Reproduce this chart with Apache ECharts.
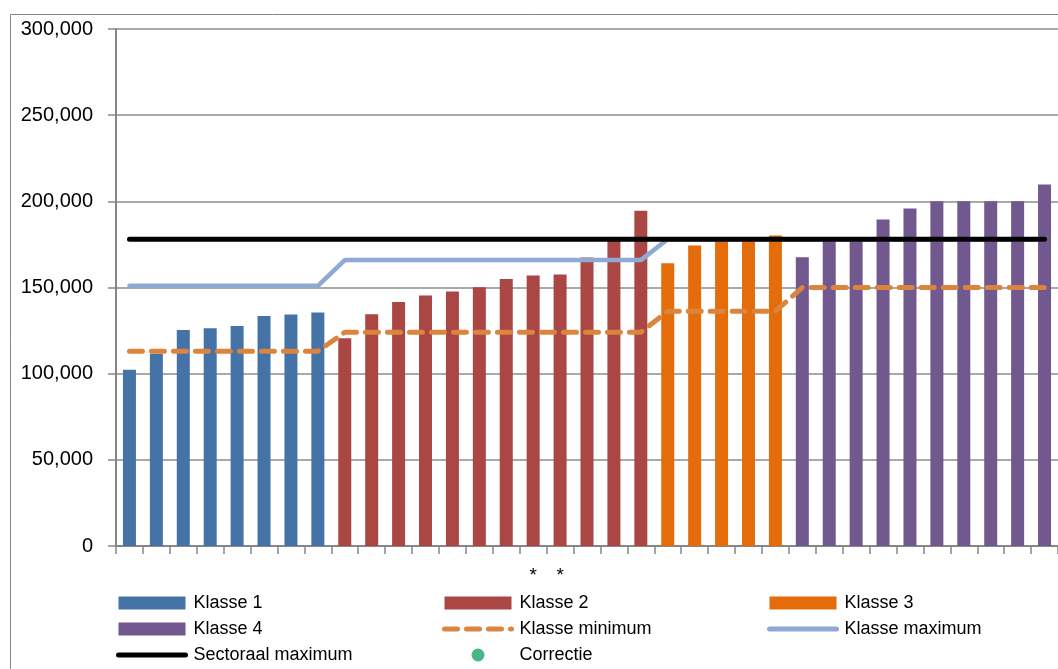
<!DOCTYPE html>
<html lang="nl">
<head>
    <meta charset="UTF-8">
    <title>Klasse chart</title>
    <style>
        body { margin: 0; background: #fff; }
        #container { width: 1058px; height: 669px; }
    </style>
    <script src="https://cdn.jsdelivr.net/npm/echarts@6/dist/echarts.min.js"></script>
</head>
<body>
    <div id="container"></div>
    <script>
        var klasse1 = [102300, 111600, 125300, 126300, 127700, 133500, 134300, 135500];
        var klasse2 = [120500, 134500, 141600, 145300, 147700, 150200, 155000, 157000, 157600, 167400, 178000, 194500];
        var klasse3 = [164000, 174400, 178000, 178000, 180200];
        var klasse4 = [167600, 178000, 178000, 189500, 195900, 200000, 200000, 200000, 200000, 209700];

        var klasseMinimum = [
            113000, 113000, 113000, 113000, 113000, 113000, 113000, 113000,
            124000, 124000, 124000, 124000, 124000, 124000, 124000, 124000, 124000, 124000, 124000, 124000,
            136200, 136200, 136200, 136200, 136200,
            150000, 150000, 150000, 150000, 150000, 150000, 150000, 150000, 150000, 150000
        ];
        var klasseMaximum = [
            151000, 151000, 151000, 151000, 151000, 151000, 151000, 151000,
            165900, 165900, 165900, 165900, 165900, 165900, 165900, 165900, 165900, 165900, 165900, 165900,
            178000, 178000, 178000, 178000, 178000,
            178000, 178000, 178000, 178000, 178000, 178000, 178000, 178000, 178000, 178000
        ];
        var sectoraalMaximum = [
            178000, 178000, 178000, 178000, 178000, 178000, 178000, 178000,
            178000, 178000, 178000, 178000, 178000, 178000, 178000, 178000, 178000, 178000, 178000, 178000,
            178000, 178000, 178000, 178000, 178000,
            178000, 178000, 178000, 178000, 178000, 178000, 178000, 178000, 178000, 178000
        ];
        var correctie = [];
        var yTicks = ['0', '50,000', '100,000', '150,000', '200,000', '250,000', '300,000'];

        // categorie-labels: alleen twee sterretjes
        var categories = [];
        var total = klasse1.length + klasse2.length + klasse3.length + klasse4.length;
        for (var i = 0; i < total; i++) categories.push('');
        categories[15] = '*';
        categories[16] = '*';

        // elke klasse op eigen positie, rest leeg
        function pad(values, offset) {
            var out = [];
            for (var i = 0; i < total; i++) {
                var j = i - offset;
                out.push(j >= 0 && j < values.length ? values[j] : null);
            }
            return out;
        }
        var off2 = klasse1.length;
        var off3 = off2 + klasse2.length;
        var off4 = off3 + klasse3.length;

        var font = 'Liberation Sans';
        var chart = echarts.init(document.getElementById('container'));

        var legendBase = {
            orient: 'vertical',
            top: 594,
            height: 120,
            padding: 0,
            itemWidth: 67,
            itemHeight: 13,
            itemGap: 8,
            textStyle: { fontFamily: font, fontSize: 18, color: '#000', padding: [0, 0, 0, 3] }
        };
        // lijn-iconen zonder symbool
        function lineItem(name, ls) {
            return { name: name, itemStyle: { opacity: 0 }, lineStyle: ls };
        }

        var option = {
            animation: false,
            backgroundColor: '#fff',
            graphic: [{
                type: 'rect',
                shape: { x: 10.5, y: 14.5, width: 1100, height: 700 },
                style: { fill: 'none', stroke: '#868686', lineWidth: 1 },
                silent: true
            }],
            legend: [
                Object.assign({}, legendBase, {
                    left: 116,
                    data: [
                        { name: 'Klasse 1', icon: 'rect' },
                        { name: 'Klasse 4', icon: 'rect' },
                        lineItem('Sectoraal maximum', { color: '#000', width: 5, cap: 'round' })
                    ]
                }),
                Object.assign({}, legendBase, {
                    left: 442,
                    data: [
                        { name: 'Klasse 2', icon: 'rect' },
                        lineItem('Klasse minimum', { color: '#DB843D', width: 5, type: [13, 9], cap: 'round' }),
                        { name: 'Correctie', icon: 'circle' }
                    ]
                }),
                Object.assign({}, legendBase, {
                    left: 767,
                    data: [
                        { name: 'Klasse 3', icon: 'rect' },
                        lineItem('Klasse maximum', { color: '#8EA9D2', width: 5, cap: 'round' })
                    ]
                })
            ],
            grid: { left: 116, top: 29, width: 945, bottom: 123, containLabel: false },
            xAxis: {
                type: 'category',
                data: categories,
                boundaryGap: true,
                axisLine: { lineStyle: { color: '#868686', width: 2 } },
                axisTick: { show: true, interval: 0, length: 8, lineStyle: { color: '#868686', width: 1.5 } },
                axisLabel: { interval: 0, margin: 20, fontFamily: font, fontSize: 19, color: '#000' }
            },
            yAxis: {
                type: 'value',
                min: 0,
                max: 300000,
                interval: 50000,
                axisLine: { show: true, lineStyle: { color: '#868686', width: 2 } },
                axisTick: { show: true, length: 8, lineStyle: { color: '#868686', width: 1.5 } },
                splitLine: { show: true, lineStyle: { color: '#8c8c8c', width: 1.5 } },
                axisLabel: {
                    margin: 23,
                    fontFamily: font,
                    fontSize: 20,
                    color: '#000',
                    formatter: function (v) { return yTicks[Math.round(v / 50000)]; }
                }
            },
            series: [
                { name: 'Klasse 1', type: 'bar', data: pad(klasse1, 0), barWidth: 13, barGap: '-100%', itemStyle: { color: '#4572A7' } },
                { name: 'Klasse 2', type: 'bar', data: pad(klasse2, off2), barWidth: 13, barGap: '-100%', itemStyle: { color: '#AA4643' } },
                { name: 'Klasse 3', type: 'bar', data: pad(klasse3, off3), barWidth: 13, barGap: '-100%', itemStyle: { color: '#E46C0A' } },
                { name: 'Klasse 4', type: 'bar', data: pad(klasse4, off4), barWidth: 13, barGap: '-100%', itemStyle: { color: '#71588F' } },
                {
                    name: 'Klasse minimum', type: 'line', data: klasseMinimum, symbol: 'none',
                    itemStyle: { color: '#DB843D' },
                    lineStyle: { color: '#DB843D', width: 5, type: [13, 9], cap: 'round' }
                },
                {
                    name: 'Klasse maximum', type: 'line', data: klasseMaximum, symbol: 'none',
                    itemStyle: { color: '#8EA9D2' },
                    lineStyle: { color: '#8EA9D2', width: 4.5, cap: 'round', join: 'round' }
                },
                {
                    name: 'Sectoraal maximum', type: 'line', data: sectoraalMaximum, symbol: 'none',
                    itemStyle: { color: '#000' },
                    lineStyle: { color: '#000', width: 5, cap: 'round' }
                },
                {
                    name: 'Correctie', type: 'scatter', data: correctie, symbolSize: 10, symbolKeepAspect: true,
                    itemStyle: { color: '#1AA56A' }
                }
            ]
        };

        chart.setOption(option);
    </script>
</body>
</html>
